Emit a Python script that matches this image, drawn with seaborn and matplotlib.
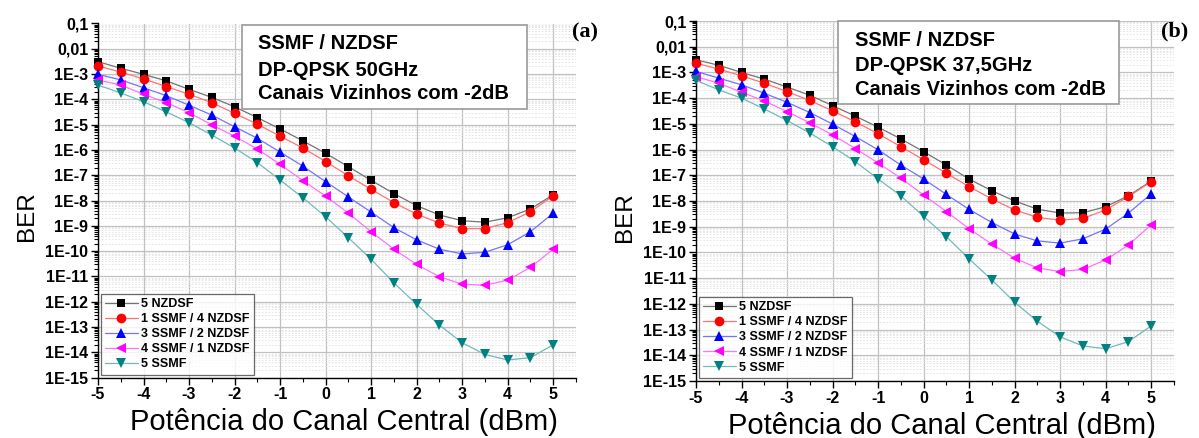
import numpy as np
import pandas as pd
import seaborn as sns
import matplotlib.pyplot as plt
from matplotlib.patches import Rectangle
from matplotlib.ticker import LogLocator, MultipleLocator, NullFormatter

# dados (BER x potência do canal central)
potencia = [-5, -4.5, -4, -3.5, -3, -2.5, -2, -1.5, -1, -0.5, 0,
            0.5, 1, 1.5, 2, 2.5, 3, 3.5, 4, 4.5, 5]

series = ["5 NZDSF", "1 SSMF / 4 NZDSF", "3 SSMF / 2 NZDSF",
          "4 SSMF / 1 NZDSF", "5 SSMF"]
cores = ["#000000", "#ff0000", "#0000ff", "#ff00ff", "#008080"]
marcadores = ["s", "o", "^", "<", "v"]
tamanhos = [6, 7, 7.5, 7.5, 7.5]

# (a) 50 GHz
a_5nzdsf = [3.1e-3, 1.7e-3, 9.8e-4, 5.4e-4, 2.5e-4, 1.2e-4, 5.1e-5, 1.9e-5, 6.8e-6, 2.3e-6, 7.4e-7,
            2.2e-7, 6.3e-8, 1.9e-8, 6.3e-9, 2.7e-9, 1.6e-9, 1.4e-9, 2.1e-9, 4.7e-9, 1.7e-8]
a_1s4n = [2.1e-3, 1.2e-3, 6.5e-4, 3.2e-4, 1.6e-4, 7.4e-5, 2.8e-5, 1.05e-5, 3.5e-6, 1.2e-6, 3.5e-7,
          9.5e-8, 2.8e-8, 8.3e-9, 2.9e-9, 1.3e-9, 7.8e-10, 7.8e-10, 1.35e-9, 3.6e-9, 1.55e-8]
a_3s2n = [9.8e-4, 5.9e-4, 2.9e-4, 1.4e-4, 5.9e-5, 2.4e-5, 8.3e-6, 2.9e-6, 8.3e-7, 2.3e-7, 5.6e-8,
          1.4e-8, 3.5e-9, 8.5e-10, 2.8e-10, 1.2e-10, 7.8e-11, 9.1e-11, 1.8e-10, 5.9e-10, 3.2e-9]
a_4s1n = [5.9e-4, 3.7e-4, 1.6e-4, 7.4e-5, 3.0e-5, 9.8e-6, 3.5e-6, 1.1e-6, 2.7e-7, 6.2e-8, 1.5e-8,
          3.2e-9, 5.9e-10, 1.2e-10, 3.0e-11, 9.8e-12, 5.0e-12, 4.5e-12, 7.2e-12, 2.3e-11, 1.2e-10]
a_5ssmf = [3.7e-4, 1.8e-4, 8.1e-5, 3.2e-5, 1.2e-5, 3.9e-6, 1.2e-6, 3.2e-7, 6.5e-8, 1.3e-8, 2.3e-9,
           3.4e-10, 4.8e-11, 5.6e-12, 7.9e-13, 1.2e-13, 2.4e-14, 8.3e-15, 5.0e-15, 6.2e-15, 2.0e-14]

# (b) 37,5 GHz
b_5nzdsf = [3.1e-3, 1.9e-3, 1.0e-3, 5.5e-4, 2.7e-4, 1.3e-4, 5.1e-5, 2.0e-5, 7.4e-6, 2.6e-6, 8.3e-7,
            2.5e-7, 7.1e-8, 2.5e-8, 1.0e-8, 4.8e-9, 3.4e-9, 3.5e-9, 6.0e-9, 1.6e-8, 6.0e-8]
b_1s4n = [2.3e-3, 1.35e-3, 7.4e-4, 3.8e-4, 1.8e-4, 8.1e-5, 3.2e-5, 1.2e-5, 4.1e-6, 1.3e-6, 4.0e-7,
          1.2e-7, 3.6e-8, 1.2e-8, 4.5e-9, 2.3e-9, 1.8e-9, 2.1e-9, 4.5e-9, 1.5e-8, 5.6e-8]
b_3s2n = [1.1e-3, 6.0e-4, 3.3e-4, 1.55e-4, 6.9e-5, 2.75e-5, 9.8e-6, 3.2e-6, 9.8e-7, 2.5e-7, 7.2e-8,
          1.8e-8, 4.7e-9, 1.45e-9, 5.2e-10, 2.8e-10, 2.3e-10, 3.4e-10, 8.1e-10, 3.4e-9, 1.9e-8]
b_4s1n = [6.9e-4, 3.8e-4, 1.7e-4, 7.8e-5, 3.0e-5, 1.1e-5, 3.7e-6, 1.1e-6, 3.0e-7, 7.8e-8, 1.7e-8,
          3.9e-9, 8.3e-10, 2.1e-10, 5.9e-11, 2.5e-11, 1.8e-11, 2.2e-11, 5.1e-11, 1.95e-10, 1.2e-9]
b_5ssmf = [4.9e-4, 2.1e-4, 1.0e-4, 3.8e-5, 1.35e-5, 4.4e-6, 1.3e-6, 3.4e-7, 7.2e-8, 1.6e-8, 2.5e-9,
           4.1e-10, 5.6e-11, 8.5e-12, 1.15e-12, 2.1e-13, 5.2e-14, 2.3e-14, 1.8e-14, 3.4e-14, 1.4e-13]

yticks_val = [1e-1, 1e-2, 1e-3, 1e-4, 1e-5, 1e-6, 1e-7, 1e-8, 1e-9, 1e-10,
              1e-11, 1e-12, 1e-13, 1e-14, 1e-15]
yticks_lab = ["0,1", "0,01", "1E-3", "1E-4", "1E-5", "1E-6", "1E-7", "1E-8", "1E-9", "1E-10",
              "1E-11", "1E-12", "1E-13", "1E-14", "1E-15"]

sns.set_style("white")
plt.rcParams["font.family"] = ["Liberation Sans", "DejaVu Sans"]
plt.rcParams["axes.unicode_minus"] = False
plt.rcParams["text.color"] = "black"
plt.rcParams["axes.labelcolor"] = "black"
plt.rcParams["xtick.color"] = "black"
plt.rcParams["ytick.color"] = "black"


def clarear(c, f=0.45):
    rgb = np.array(plt.matplotlib.colors.to_rgb(c))
    return tuple(rgb * (1 - f) + f)


def painel(ax, curvas):
    df = pd.DataFrame({
        "P": potencia * len(series),
        "BER": sum(curvas, []),
        "serie": np.repeat(series, len(potencia)),
    })
    sns.lineplot(data=df, x="P", y="BER", hue="serie", style="serie",
                 hue_order=series, style_order=series,
                 palette=dict(zip(series, cores)),
                 markers=dict(zip(series, marcadores)), dashes=False,
                 estimator=None, errorbar=None, linewidth=0.9,
                 markeredgewidth=0, legend=False, ax=ax, zorder=3)
    for ln, c, ms in zip(ax.lines, cores, tamanhos):
        ln.set_color(clarear(c))
        ln.set_markerfacecolor(c)
        ln.set_markeredgecolor(c)
        ln.set_markersize(ms)
        ln.set_clip_on(False)

    ax.set_yscale("log")
    ax.set_ylim(1e-15, 0.1)
    ax.set_xlim(-5, 5.5)
    ax.set_yticks(yticks_val, labels=yticks_lab)
    ax.yaxis.set_minor_locator(LogLocator(base=10.0, subs=np.arange(2, 10), numticks=100))
    ax.yaxis.set_minor_formatter(NullFormatter())
    ax.xaxis.set_major_locator(MultipleLocator(1))
    ax.xaxis.set_minor_locator(MultipleLocator(0.5))

    ax.grid(which="major", color="#c0c0c0", lw=0.9)
    ax.grid(which="minor", axis="y", color="#e0e0e0", lw=0.6, ls=(0, (2, 2)))
    ax.set_axisbelow(True)

    for s in ["top", "right"]:
        ax.spines[s].set_visible(False)
    for s in ["left", "bottom"]:
        ax.spines[s].set_color("black")
        ax.spines[s].set_linewidth(1)

    ax.tick_params(which="major", direction="out", length=5, width=1, labelsize=11.5,
                   pad=2, left=True, bottom=True, color="black", labelcolor="black")
    ax.tick_params(which="minor", direction="out", length=3, width=0.8,
                   left=True, bottom=True, color="black")
    for t in ax.get_xticklabels() + ax.get_yticklabels():
        t.set_fontweight("bold")

    ax.set_xlabel("Potência do Canal Central (dBm)", fontsize=21, va="top", color="black")
    ax.set_ylabel("BER", fontsize=17.5, color="black")
    ax.xaxis.set_label_coords(0.515, -0.086)
    ax.yaxis.set_label_coords(-0.125, 0.4565)

    leg = ax.legend(ax.lines, series, loc="lower left", bbox_to_anchor=(0.006, 0.008),
                    borderaxespad=0, frameon=True, fancybox=False,
                    prop={"weight": "bold", "size": 9}, handlelength=2.6,
                    handletextpad=0.3, labelspacing=0.25, borderpad=0.35)
    leg.get_frame().set_edgecolor("#444444")
    leg.get_frame().set_linewidth(0.9)
    for t in leg.get_texts():
        t.set_color("black")
    leg.set_zorder(5)


fig = plt.figure(figsize=(11.99, 4.38), dpi=100)
W, H = 1199, 438
ax_a = fig.add_axes([98 / W, 1 - 377.7 / H, 478 / W, 354.2 / H])
ax_b = fig.add_axes([696 / W, 1 - 381 / H, 478 / W, 360 / H])

painel(ax_a, [a_5nzdsf, a_1s4n, a_3s2n, a_4s1n, a_5ssmf])
painel(ax_b, [b_5nzdsf, b_1s4n, b_3s2n, b_4s1n, b_5ssmf])

# caixas de texto
caixas = [
    ((241.7, 25, 285, 84.3), 258, [49.3, 76, 99.3], "DP-QPSK 50GHz"),
    ((838.3, 21, 281, 83.3), 855, [45.7, 71, 95], "DP-QPSK 37,5GHz"),
]
for (x0, y0, w, h), xt, bases, linha2 in caixas:
    fig.add_artist(Rectangle((x0 / W, 1 - (y0 + h) / H), w / W, h / H,
                             transform=fig.transFigure, facecolor="white",
                             edgecolor="#9a9a9a", lw=1.2, zorder=4))
    for yb, txt in zip(bases, ["SSMF / NZDSF", linha2, "Canais Vizinhos com -2dB"]):
        fig.text(xt / W, 1 - yb / H, txt, fontsize=14.5, fontweight="bold",
                 va="baseline", ha="left", zorder=5)

fig.text(598 / W, 1 - 37.3 / H, "(a)", fontsize=16, fontweight="bold",
         family=["Liberation Serif", "DejaVu Serif"], ha="right", va="baseline")
fig.text(1188 / W, 1 - 36.7 / H, "(b)", fontsize=16, fontweight="bold",
         family=["Liberation Serif", "DejaVu Serif"], ha="right", va="baseline")

plt.savefig("out.png", dpi=100)
plt.close()
